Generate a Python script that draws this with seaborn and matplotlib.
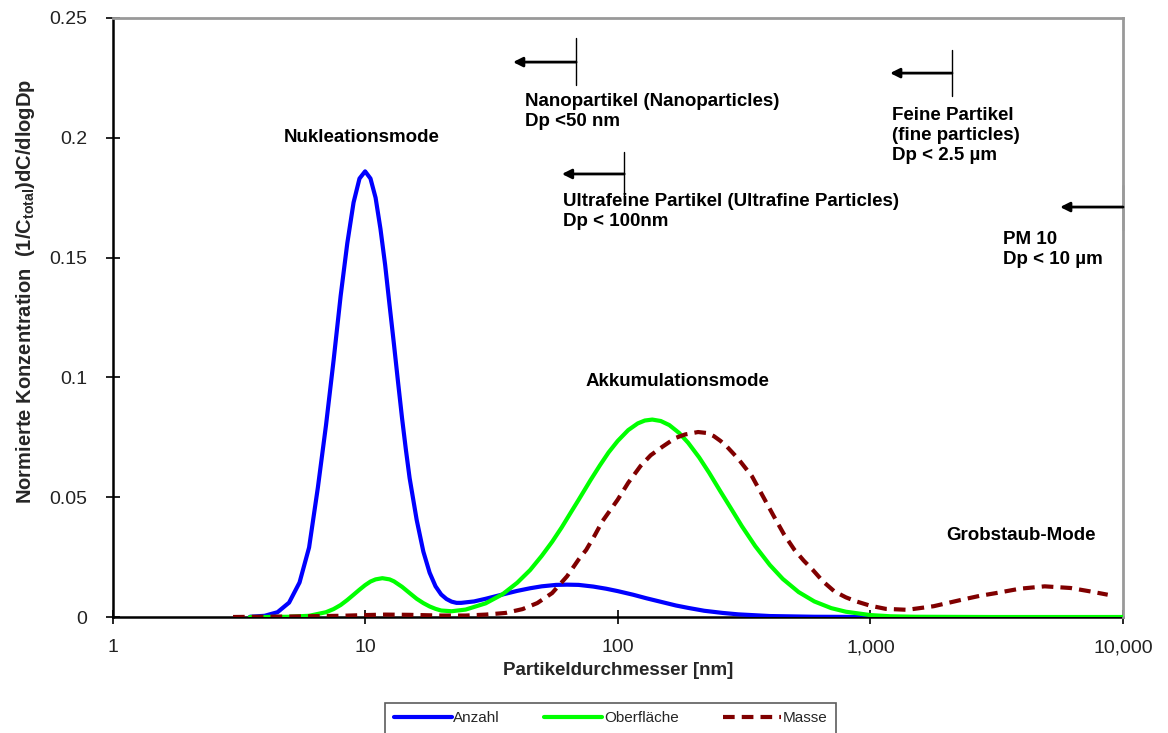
import numpy as np
import pandas as pd
import matplotlib
matplotlib.use("Agg")
import matplotlib.pyplot as plt
from matplotlib.ticker import FixedLocator, FixedFormatter, NullLocator
import seaborn as sns

# ---------------- data ----------------
anzahl_dp = [3.5, 4, 4.5, 5, 5.5, 6, 6.5, 7, 7.5, 8, 8.5, 9, 9.5, 10, 10.5, 11,
             11.5, 12, 12.5, 13, 13.5, 14, 14.5, 15, 16, 17, 18, 19, 20, 21,
             22, 23, 24, 27, 30, 35, 40, 45, 50, 57, 63, 70, 80, 90, 100, 115,
             130, 150, 170, 190, 220, 260, 300, 400, 600, 1000]
anzahl_val = [0.0001, 0.0005, 0.002, 0.006, 0.0144, 0.029, 0.054, 0.080, 0.107,
              0.134, 0.156, 0.173, 0.183, 0.186, 0.183, 0.175, 0.162, 0.147,
              0.130, 0.114, 0.098, 0.083, 0.0698, 0.058, 0.0405, 0.0273,
              0.0185, 0.0128, 0.0094, 0.0075, 0.0064, 0.0059, 0.0059, 0.0065,
              0.0076, 0.0094, 0.0109, 0.0120, 0.0128, 0.0134, 0.0135, 0.0134,
              0.0127, 0.0118, 0.0108, 0.0093, 0.0078, 0.0062, 0.0048, 0.0038,
              0.0026, 0.0017, 0.0011, 0.0004, 0.0001, 0.0]

ober_dp = [3.5, 4, 5, 6, 7, 7.5, 8, 8.5, 9, 9.5, 10, 10.5, 11, 11.7, 12.5, 13,
           14, 15, 16, 17, 18, 19, 20, 22, 25, 30, 35, 40, 45, 50, 55, 60, 65,
           70, 78, 85, 92, 100, 110, 120, 128, 137, 148, 160, 175, 190, 210,
           230, 255, 280, 310, 350, 400, 450, 520, 600, 700, 800, 1000, 1200,
           1500, 3000, 10000]
ober_val = [0.0, 0.0, 0.0001, 0.0005, 0.002, 0.0033, 0.005, 0.0071, 0.0093,
            0.0114, 0.0133, 0.0148, 0.0157, 0.0162, 0.0157, 0.0149, 0.0126,
            0.0100, 0.0076, 0.0058, 0.0044, 0.0034, 0.0027, 0.0024, 0.0031,
            0.0057, 0.0095, 0.0143, 0.0196, 0.0255, 0.0314, 0.0374, 0.0434,
            0.0489, 0.0571, 0.0633, 0.0687, 0.0735, 0.0780, 0.0808, 0.0820,
            0.0824, 0.0818, 0.0801, 0.0768, 0.0727, 0.0666, 0.0602, 0.0524,
            0.0455, 0.0379, 0.0296, 0.0217, 0.0159, 0.0104, 0.0065, 0.0037,
            0.0022, 0.0008, 0.0003, 0.0001, 0.0, 0.0]

masse_dp = [3, 5, 8, 10, 12, 15, 20, 25, 30, 36, 42, 48, 55, 63, 70, 75, 81,
            87, 94, 100, 110, 123, 135, 150, 160, 170, 185, 208, 225, 240, 255,
            270, 300, 340, 375, 415, 455, 500, 545, 590, 650, 720, 800, 880,
            1000, 1150, 1400, 1780, 2300, 2700, 3150, 3900, 4900, 6200, 7400,
            8700]
masse_val = [0.0, 0.0002, 0.0005, 0.0008, 0.001, 0.0009, 0.0006, 0.0006, 0.001,
             0.0017, 0.0033, 0.0058, 0.010, 0.017, 0.024, 0.028, 0.034, 0.040,
             0.045, 0.049, 0.056, 0.063, 0.0675, 0.071, 0.073, 0.0748, 0.0762,
             0.0772, 0.0768, 0.0755, 0.0735, 0.0712, 0.066, 0.0587, 0.0505,
             0.042, 0.0345, 0.0281, 0.0235, 0.0198, 0.0148, 0.0107, 0.0082,
             0.0065, 0.0047, 0.0034, 0.003, 0.0045, 0.0072, 0.0088, 0.010,
             0.0118, 0.0128, 0.0121, 0.0107, 0.0093]

series_names = ["Anzahl", "Oberfläche", "Masse"]
series_colors = ["#0000FF", "#00FF00", "#800000"]

x_ticks = [1, 10, 100, 1000, 10000]
x_tick_labels = ["1", "10", "100", "1,000", "10,000"]
y_ticks = [0, 0.05, 0.1, 0.15, 0.2, 0.25]
y_tick_labels = ["0", "0.05", "0.1", "0.15", "0.2", "0.25"]

# ---------------- style ----------------
sns.set_theme(style="white")
plt.rcParams["font.family"] = ["Liberation Sans", "DejaVu Sans"]
plt.rcParams["mathtext.fontset"] = "custom"
plt.rcParams["mathtext.rm"] = "Liberation Sans"
plt.rcParams["mathtext.bf"] = "Liberation Sans:bold"

fig = plt.figure(figsize=(11.68, 7.33), dpi=100)
ax = fig.add_axes([112.5 / 1168, 1 - 617 / 733, (1123 - 112.5) / 1168, (617 - 18) / 733])

df_a = pd.DataFrame({"dp": anzahl_dp, "val": anzahl_val})
df_o = pd.DataFrame({"dp": ober_dp, "val": ober_val})
df_m = pd.DataFrame({"dp": masse_dp, "val": masse_val})

sns.lineplot(data=df_a, x="dp", y="val", ax=ax, color=series_colors[0], lw=3.0,
             label=series_names[0], zorder=3)
sns.lineplot(data=df_o, x="dp", y="val", ax=ax, color=series_colors[1], lw=3.0,
             label=series_names[1], zorder=4)
sns.lineplot(data=df_m, x="dp", y="val", ax=ax, color=series_colors[2], lw=3.0,
             linestyle=(0, (2.8, 1.7)), label=series_names[2], zorder=5)

ax.set_xscale("log")
ax.set_xlim(1, 10000)
ax.set_ylim(0, 0.25)
ax.xaxis.set_major_locator(FixedLocator(x_ticks))
ax.xaxis.set_major_formatter(FixedFormatter(x_tick_labels))
ax.xaxis.set_minor_locator(NullLocator())
ax.yaxis.set_major_locator(FixedLocator(y_ticks))
ax.yaxis.set_major_formatter(FixedFormatter(y_tick_labels))

ax.tick_params(axis="both", which="major", direction="inout", length=10,
               width=1.2, color="black", labelcolor="#222222", labelsize=14,
               left=True, bottom=True)
ax.tick_params(axis="y", pad=13)
ax.tick_params(axis="x", pad=11)

for s in ["left", "bottom"]:
    ax.spines[s].set_color("black")
    ax.spines[s].set_linewidth(1.8)
for s in ["top", "right"]:
    ax.spines[s].set_color("#999999")
    ax.spines[s].set_linewidth(2.0)
ax.spines["bottom"].set_zorder(2)

ax.set_xlabel("Partikeldurchmesser [nm]", fontsize=13.5, fontweight="bold",
              labelpad=4)
ax.set_ylabel("Normierte Konzentration  (1/C$\\mathbf{_{total}}$)dC/dlogDp",
              fontsize=14.5, fontweight="bold")
ax.yaxis.set_label_coords(-0.075, 0.544)

# mode labels
tkw = dict(fontsize=13.5, fontweight="bold", color="black")
ax.text(9.7, 0.2003, "Nukleationsmode", ha="center", va="center", **tkw)
ax.text(172, 0.0981, "Akkumulationsmode", ha="center", va="center", **tkw)
ax.text(3950, 0.0342, "Grobstaub-Mode", ha="center", va="center", **tkw)

# size-class markers: vertical bar + arrow pointing left
markers = [
    (68.4, 0.2417, 0.222, 0.2316, 38.5),
    (106, 0.194, 0.1757, 0.1849, 60.1),
    (2104, 0.2366, 0.2174, 0.227, 1197),
    (10000, 0.1803, 0.1615, 0.1711, 5636),
]
for xv, y0, y1, ya, xt in markers:
    ax.plot([xv, xv], [y0, y1], color="black", lw=1.0, clip_on=False)
    ax.annotate("", xy=(xt, ya), xytext=(xv, ya),
                arrowprops=dict(arrowstyle="-|>", color="black", lw=2.0,
                                mutation_scale=14, shrinkA=0, shrinkB=0))

ax.text(43.0, 0.2187, "Nanopartikel (Nanoparticles)\nDp <50 nm", ha="left",
        va="top", linespacing=1.25, **tkw)
ax.text(60.7, 0.177, "Ultrafeine Partikel (Ultrafine Particles)\nDp < 100nm",
        ha="left", va="top", linespacing=1.25, **tkw)
ax.text(1219, 0.2129, "Feine Partikel\n(fine particles)\nDp < 2.5 µm",
        ha="left", va="top", linespacing=1.25, **tkw)
ax.text(3350, 0.1611, "PM 10\nDp < 10 µm", ha="left", va="top",
        linespacing=1.25, **tkw)

handles, labels = ax.get_legend_handles_labels()
ax.get_legend().remove()
leg = fig.legend(handles, labels, loc="upper center",
                 bbox_to_anchor=(610.5 / 1168, 1 - 703 / 733), ncol=3,
                 fontsize=11, frameon=True, fancybox=False, handlelength=3.8,
                 handletextpad=0.1, columnspacing=2.9, borderpad=0.55,
                 borderaxespad=0)
leg.get_frame().set_edgecolor("#333333")
leg.get_frame().set_linewidth(1.2)

fig.savefig("out.png", dpi=100, facecolor="white")
